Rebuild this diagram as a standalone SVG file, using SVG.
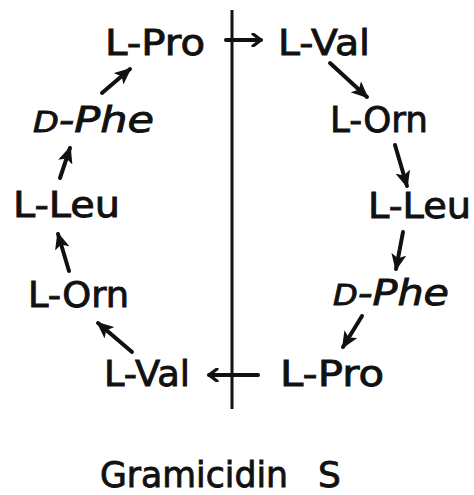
<svg xmlns="http://www.w3.org/2000/svg" width="474" height="495" viewBox="0 0 474 495">
<defs>
<style>
.t{font-family:"DejaVu Sans","Liberation Sans",sans-serif;font-size:36px;fill:#111;stroke:#111;stroke-width:0.9px;}
.i{font-style:italic;}
.c{stroke:#111;stroke-width:4;fill:none;stroke-linecap:round;}
</style>
<marker id="ah" markerUnits="userSpaceOnUse" markerWidth="17" markerHeight="15" viewBox="0 0 17 15" refX="15" refY="7.5" orient="auto">
<path d="M0,0 L17,7.5 L0,15 L4,7.5 z" fill="#111"/>
</marker>
<marker id="ch" markerUnits="userSpaceOnUse" markerWidth="14" markerHeight="14" viewBox="0 0 14 14" refX="11" refY="7" orient="auto">
<path d="M3,1 L11,7 L3,13" fill="none" stroke="#111" stroke-width="3.2" stroke-linecap="round" stroke-linejoin="round"/>
</marker>
</defs>
<rect width="474" height="495" fill="#fff"/>
<g id="divider"><line x1="232" y1="10" x2="232" y2="409" stroke="#111" stroke-width="3"/></g>
<g id="nodes">
<g id="lpro1"><text class="t" x="105" y="55" textLength="100" lengthAdjust="spacingAndGlyphs">L-Pro</text></g>
<g id="lval1"><text class="t" x="278" y="55" textLength="92" lengthAdjust="spacingAndGlyphs">L-Val</text></g>
<g id="lorn1"><text class="t" x="330" y="132" textLength="98" lengthAdjust="spacingAndGlyphs">L-Orn</text></g>
<g id="lleu1"><text class="t" x="368" y="218" textLength="103" lengthAdjust="spacingAndGlyphs">L-Leu</text></g>
<g id="dphe1"><text class="t i" x="333" y="305" textLength="116" lengthAdjust="spacingAndGlyphs"><tspan font-size="28">D</tspan>-Phe</text></g>
<g id="lpro2"><text class="t" x="280" y="386" textLength="104" lengthAdjust="spacingAndGlyphs">L-Pro</text></g>
<g id="lval2"><text class="t" x="104" y="386" textLength="86" lengthAdjust="spacingAndGlyphs">L-Val</text></g>
<g id="lorn2"><text class="t" x="28" y="307" textLength="101" lengthAdjust="spacingAndGlyphs">L-Orn</text></g>
<g id="lleu2"><text class="t" x="13" y="217" textLength="107" lengthAdjust="spacingAndGlyphs">L-Leu</text></g>
<g id="dphe2"><text class="t i" x="33" y="132" textLength="121" lengthAdjust="spacingAndGlyphs"><tspan font-size="28">D</tspan>-Phe</text></g>
</g>
<g id="connectors">
<line class="c" x1="226" y1="40" x2="261" y2="40" marker-end="url(#ch)"/>
<line class="c" x1="330" y1="63" x2="367" y2="97" marker-end="url(#ah)"/>
<line class="c" x1="395" y1="145" x2="407" y2="186" marker-end="url(#ah)"/>
<line class="c" x1="403" y1="232" x2="396" y2="269" marker-end="url(#ah)"/>
<line class="c" x1="362" y1="316" x2="343" y2="347" marker-end="url(#ah)"/>
<line class="c" x1="258" y1="375" x2="209" y2="375" marker-end="url(#ch)"/>
<line class="c" x1="132" y1="352" x2="98" y2="323" marker-end="url(#ah)"/>
<line class="c" x1="69" y1="271" x2="58" y2="234" marker-end="url(#ah)"/>
<line class="c" x1="60" y1="178" x2="70" y2="148" marker-end="url(#ah)"/>
<line class="c" x1="102" y1="93" x2="130" y2="69" marker-end="url(#ah)"/>
</g>
<g id="title"><text class="t" y="487"><tspan x="100" textLength="188" lengthAdjust="spacingAndGlyphs">Gramicidin</tspan><tspan x="318">S</tspan></text></g>
</svg>
